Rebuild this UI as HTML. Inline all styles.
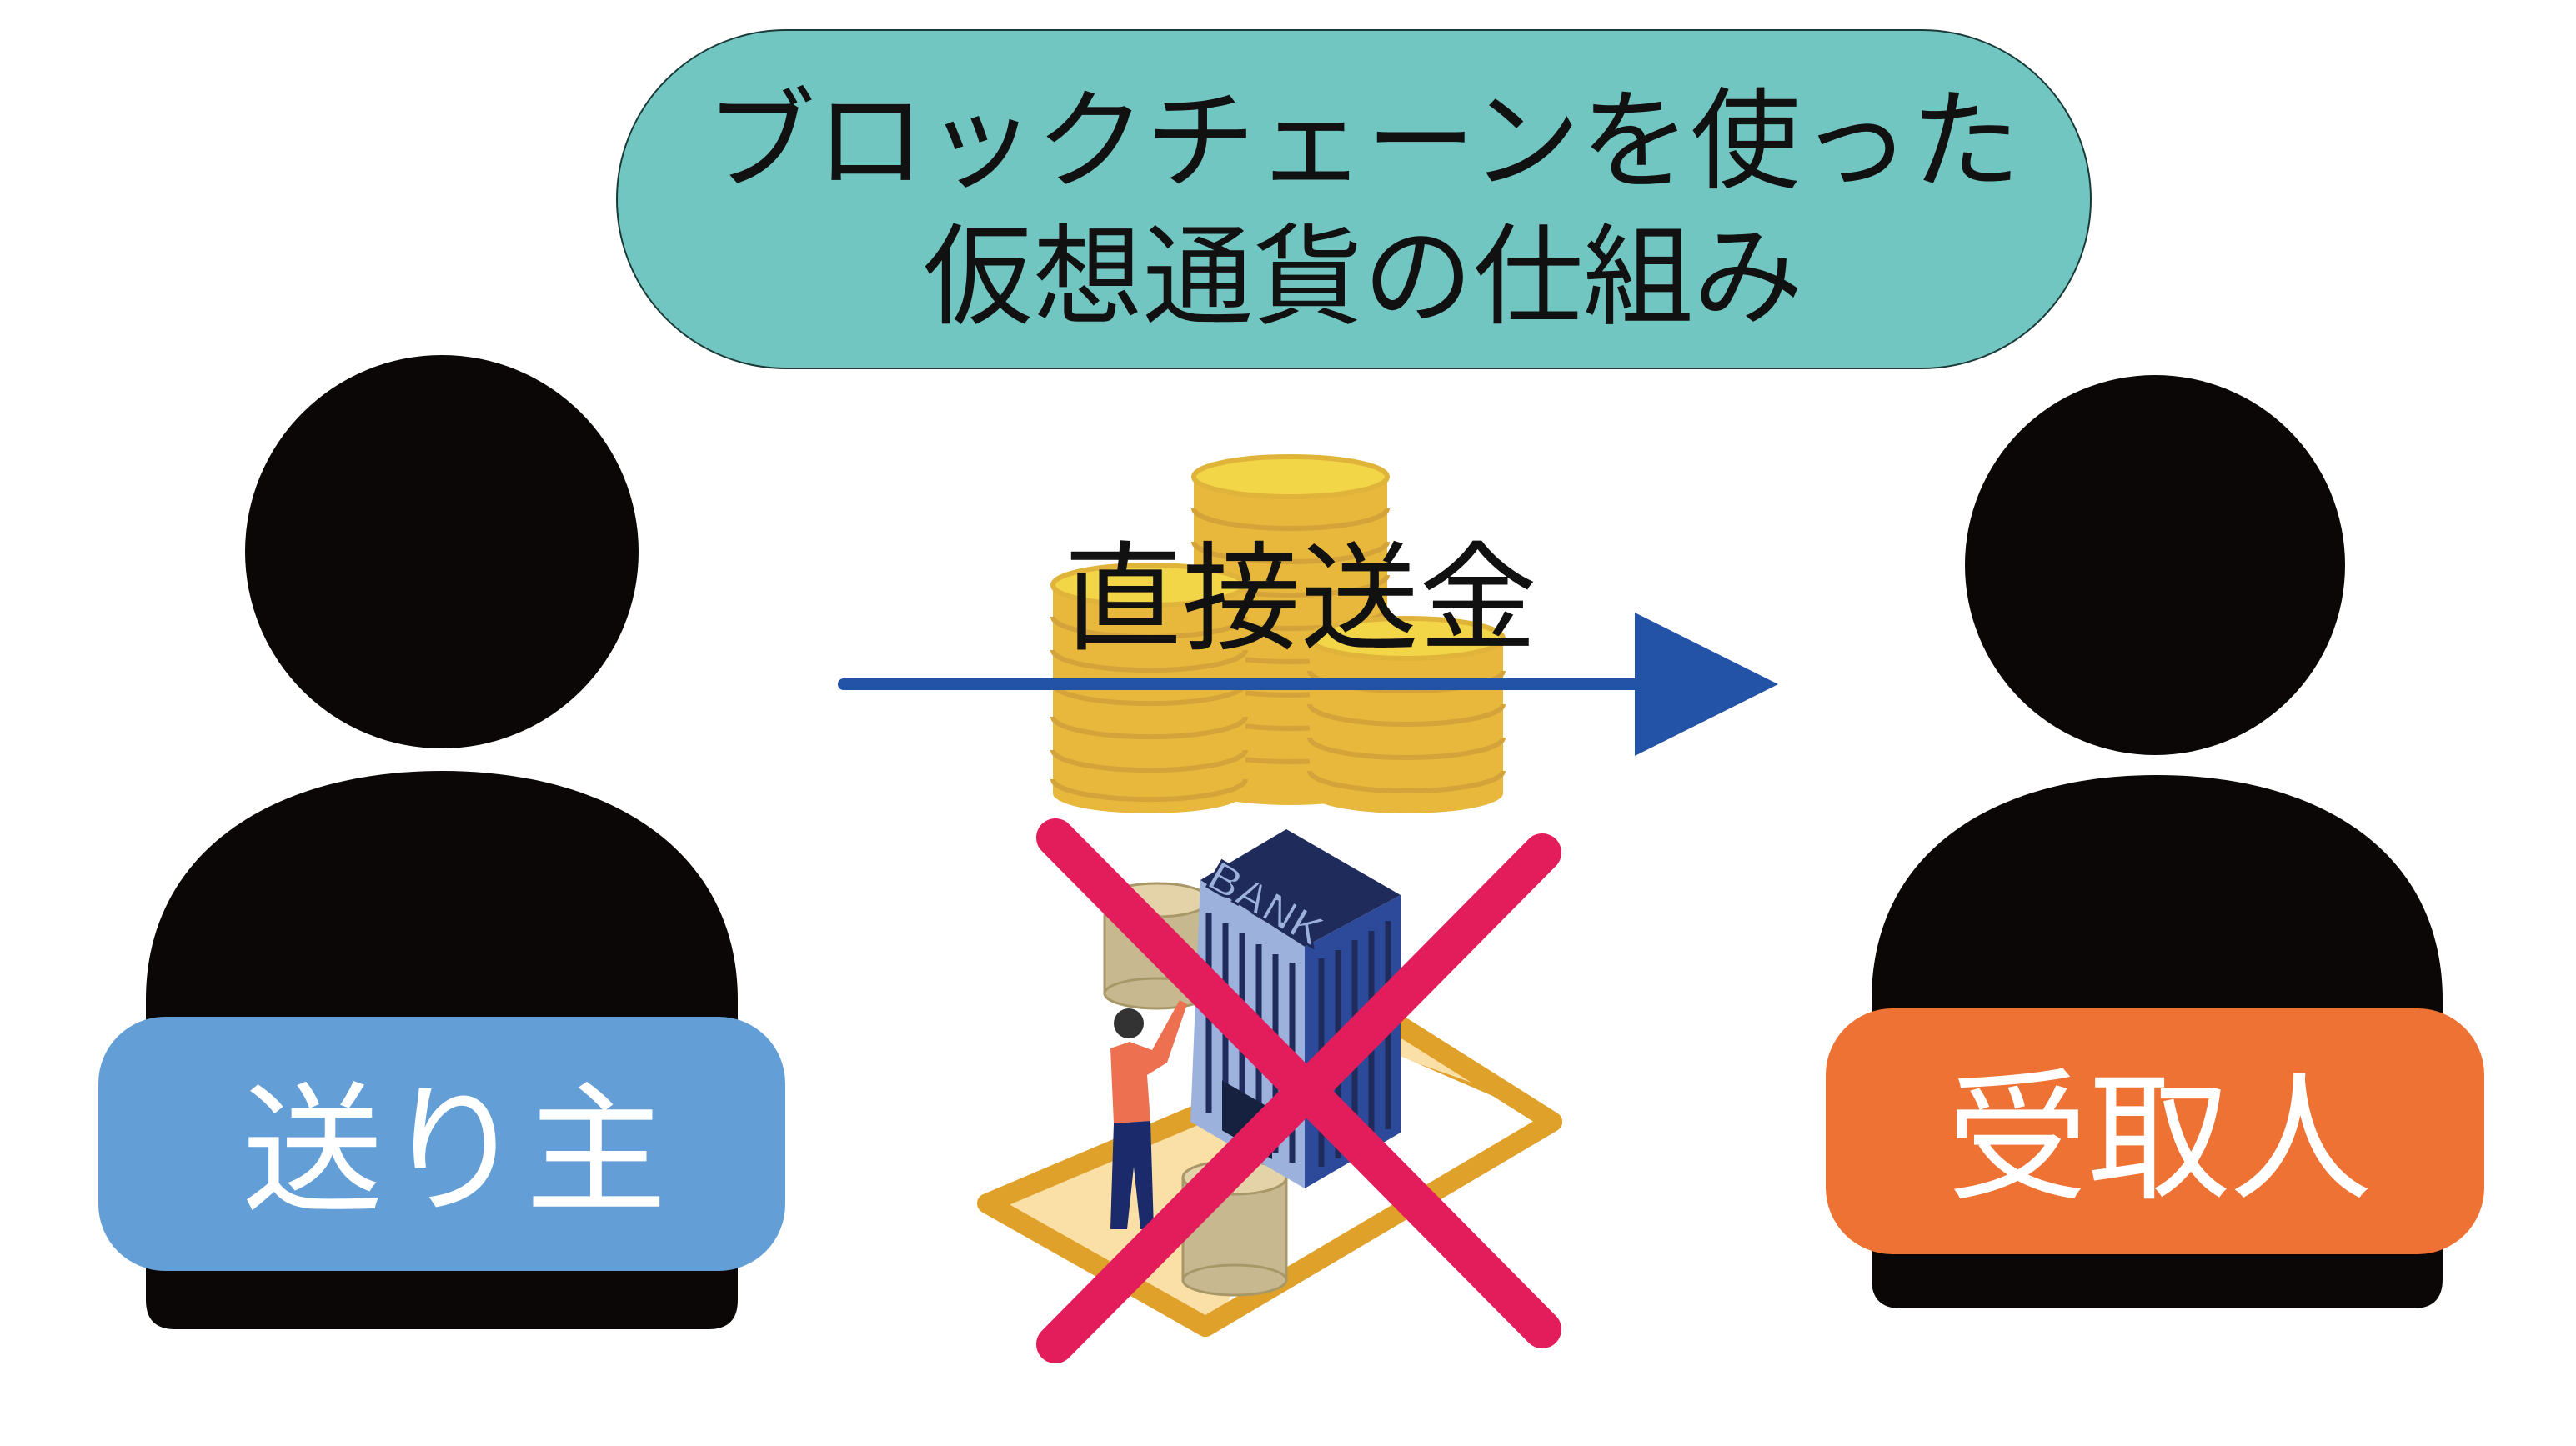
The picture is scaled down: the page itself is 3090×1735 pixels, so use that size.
<!DOCTYPE html>
<html><head><meta charset="utf-8"><style>
html,body{margin:0;padding:0;background:#fff;}
svg{display:block;}
text{font-family:"Liberation Sans","Noto Sans CJK JP",sans-serif;}
</style></head><body>
<svg width="3090" height="1735" viewBox="0 0 3090 1735" xmlns="http://www.w3.org/2000/svg">
<rect width="3090" height="1735" fill="#fff"/>
<!-- title -->
<rect x="740" y="36" width="1768" height="406" rx="203" fill="#72c6c1" stroke="#1a3a38" stroke-width="2"/>
<text x="1635" y="215" font-size="132" text-anchor="middle" fill="#111">ブロックチェーンを使った</text>
<text x="1635" y="378" font-size="132" text-anchor="middle" fill="#111">仮想通貨の仕組み</text>

<!-- left person -->
<circle cx="530" cy="662" r="236" fill="#0a0706"/>
<path d="M175,1200 C175,1020 330,925 530,925 C730,925 885,1020 885,1200 L885,1560 Q885,1595 850,1595 L210,1595 Q175,1595 175,1560 Z" fill="#0a0706"/>
<rect x="118" y="1220" width="824" height="305" rx="80" fill="#639fd6"/>
<text x="545" y="1440" font-size="170" text-anchor="middle" fill="#fff">送り主</text>

<!-- right person -->
<circle cx="2585" cy="678" r="228" fill="#0a0706"/>
<path d="M2245,1200 C2245,1020 2395,930 2587,930 C2780,930 2930,1020 2930,1200 L2930,1535 Q2930,1570 2895,1570 L2280,1570 Q2245,1570 2245,1535 Z" fill="#0a0706"/>
<rect x="2190" y="1210" width="790" height="295" rx="80" fill="#ed7233"/>
<text x="2590" y="1425" font-size="170" text-anchor="middle" fill="#fff">受取人</text>

<!-- coins -->
<g stroke="#d4a43a" stroke-width="6">
 <g>
  <rect x="1432" y="572" width="232" height="370" fill="#e8b83c" stroke="none"/>
  <ellipse cx="1548" cy="942" rx="116" ry="24" fill="#e8b83c" stroke="none"/>
  <path d="M1432,610 A116 24 0 0 0 1664,610 M1432,650 A116 24 0 0 0 1664,650 M1432,690 A116 24 0 0 0 1664,690 M1432,730 A116 24 0 0 0 1664,730 M1432,770 A116 24 0 0 0 1664,770 M1432,810 A116 24 0 0 0 1664,810 M1432,850 A116 24 0 0 0 1664,850 M1432,890 A116 24 0 0 0 1664,890" fill="none"/>
  <ellipse cx="1548" cy="572" rx="116" ry="24" fill="#f2d648" stroke="#e0b43a"/>
 </g>
 <g>
  <rect x="1263" y="702" width="231" height="250" fill="#e8b83c" stroke="none"/>
  <ellipse cx="1378" cy="952" rx="115" ry="24" fill="#e8b83c" stroke="none"/>
  <path d="M1263,740 A115 24 0 0 0 1494,740 M1263,780 A115 24 0 0 0 1494,780 M1263,820 A115 24 0 0 0 1494,820 M1263,860 A115 24 0 0 0 1494,860 M1263,900 A115 24 0 0 0 1494,900 M1263,935 A115 24 0 0 0 1494,935" fill="none"/>
  <ellipse cx="1378" cy="702" rx="115" ry="24" fill="#f2d648" stroke="#e0b43a"/>
 </g>
 <g>
  <rect x="1571" y="766" width="232" height="186" fill="#e8b83c" stroke="none"/>
  <ellipse cx="1687" cy="952" rx="116" ry="24" fill="#e8b83c" stroke="none"/>
  <path d="M1571,805 A116 24 0 0 0 1803,805 M1571,845 A116 24 0 0 0 1803,845 M1571,885 A116 24 0 0 0 1803,885 M1571,925 A116 24 0 0 0 1803,925" fill="none"/>
  <ellipse cx="1687" cy="766" rx="116" ry="24" fill="#f2d648" stroke="#e0b43a"/>
 </g>
</g>

<!-- arrow -->
<line x1="1012" y1="821" x2="1970" y2="821" stroke="#2353a6" stroke-width="14" stroke-linecap="round"/>
<polygon points="1961,735 2133,821 1961,907" fill="#2353a6"/>
<text x="1560" y="768" font-size="142" text-anchor="middle" fill="#111">直接送金</text>

<!-- phone -->
<path d="M1184,1444 L1683,1233 L1862,1346 L1446,1592 Z" fill="#fadfa6" stroke="#e0a12a" stroke-width="24" stroke-linejoin="round"/>
<path d="M1625,1262 L1862,1346 L1446,1592" fill="none" stroke="#e0a12a" stroke-width="24" stroke-linejoin="round"/>
<polygon points="1640,1250 1862,1346 1470,1575 1520,1400" fill="#fff"/>
<path d="M1683,1233 L1862,1346 L1446,1592 L1184,1444" fill="none" stroke="#e0a12a" stroke-width="24" stroke-linejoin="round"/>
<!-- beige coins -->
<g fill="#c8b890" stroke="#a89868" stroke-width="3">
 <rect x="1325" y="1080" width="126" height="112"/>
 <ellipse cx="1388" cy="1192" rx="63" ry="18"/>
 <ellipse cx="1388" cy="1080" rx="63" ry="20" fill="#e4d3a8"/>
 <rect x="1419" y="1413" width="124" height="123"/>
 <ellipse cx="1481" cy="1536" rx="62" ry="18"/>
 <ellipse cx="1481" cy="1413" rx="62" ry="20" fill="#e4d3a8"/>
</g>
<!-- building -->
<polygon points="1440,1056 1543,995 1680,1074 1565,1136" fill="#1f2b5a"/>
<polygon points="1440,1056 1565,1136 1565,1426 1428,1346" fill="#9cb1dc"/>
<polygon points="1565,1136 1680,1074 1680,1359 1565,1426" fill="#2d4a9a"/>
<g stroke="#1f2b5a" stroke-width="7">
 <line x1="1450" y1="1095" x2="1450" y2="1335"/><line x1="1470" y1="1108" x2="1470" y2="1345"/>
 <line x1="1490" y1="1120" x2="1490" y2="1358"/><line x1="1510" y1="1133" x2="1510" y2="1370"/>
 <line x1="1530" y1="1145" x2="1530" y2="1383"/><line x1="1550" y1="1155" x2="1550" y2="1395"/>
 <line x1="1585" y1="1150" x2="1585" y2="1400"/><line x1="1605" y1="1140" x2="1605" y2="1390"/>
 <line x1="1625" y1="1128" x2="1625" y2="1378"/><line x1="1645" y1="1117" x2="1645" y2="1367"/>
 <line x1="1665" y1="1105" x2="1665" y2="1355"/>
</g>
<rect x="1466" y="1300" width="60" height="60" fill="#16203f" transform="skewY(30) translate(0,-850)"/>
<text x="1445" y="1062" font-size="52" font-weight="bold" fill="#9cb1dc" stroke="#1f2b5a" stroke-width="3" transform="rotate(30 1445 1062)">BANK</text>
<!-- person -->
<circle cx="1354" cy="1228" r="18" fill="#333"/>
<path d="M1332,1258 L1355,1250 L1382,1260 L1415,1200 L1424,1205 L1400,1275 L1376,1290 L1380,1345 L1336,1348 Z" fill="#ed7050"/>
<path d="M1336,1348 L1380,1345 L1384,1475 L1368,1475 L1360,1400 L1352,1475 L1332,1475 Z" fill="#1a2a6a"/>

<!-- red X -->
<g stroke="#e31c5b" stroke-width="46" stroke-linecap="round">
 <line x1="1266" y1="1005" x2="1850" y2="1595"/>
 <line x1="1850" y1="1023" x2="1266" y2="1613"/>
</g>
</svg>
</body></html>
